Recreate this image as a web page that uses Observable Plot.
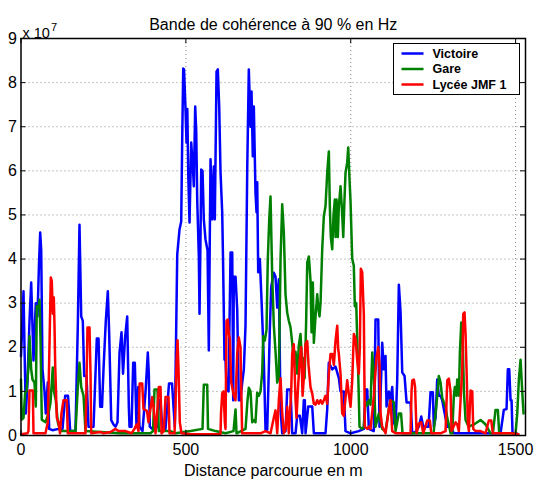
<!DOCTYPE html>
<html><head><meta charset="utf-8">
<script src="https://cdn.jsdelivr.net/npm/d3@7"></script>
<script src="https://cdn.jsdelivr.net/npm/@observablehq/plot@0.6"></script>
<style>body{margin:0;background:#fff;}</style>
</head><body><div id="chart"></div>
<script>
const title = "Bande de cohérence à 90 % en Hz";
const xLabel = "Distance parcourue en m";
const yScaleText = "x 10";
const yExponent = "7";
const seriesNames = ["Victoire", "Gare", "Lycée JMF 1"];
const seriesColors = ["#0000ff", "#008000", "#ff0000"];
const xTicks = [0, 500, 1000, 1500];
const yTicks = [0, 1, 2, 3, 4, 5, 6, 7, 8, 9];
const xDomain = [0, 1530];
const yDomain = [0, 9];

// values in units of 1e7 Hz, distance in m
const victoire = [[0,1.8],[4.5,2.6],[7.6,3.27],[10.6,2.0],[14.6,0.5],[19.7,1.2],[25.8,2.6],[30.9,3.47],[37.9,1.7],[44.9,3.0],[50,2.7],[54.6,3.9],[58.2,4.6],[61.3,4.2],[65.2,1.5],[71.3,1.0],[75.2,0.5],[81.3,1.2],[85.5,0.15],[95.5,0.12],[113.7,0.15],[125.9,0.15],[134,0.9],[142.6,0.9],[149.2,0.1],[165.3,0.1],[172.3,2.5],[177.4,4.78],[182.6,2.7],[187.4,2.6],[191.7,1.35],[198.7,1.35],[204.7,0.2],[219.9,0.2],[229.9,2.2],[235.1,2.2],[240.2,0.65],[245.7,0.65],[250.2,1.5],[257.2,2.6],[263.3,3.27],[267.5,2.3],[273.6,0.35],[280.6,0.25],[286.6,0.2],[292.7,0.3],[298.8,1.88],[304.8,2.34],[309.4,1.4],[315.4,2.2],[322.1,2.7],[327,0.65],[329.1,0.2],[335.1,0.2],[340.3,1.65],[345.2,1.65],[350.3,0.2],[355.5,1.1],[359.4,0.2],[368.5,0.1],[377.6,0.98],[384.6,1.88],[387.6,1.4],[390.6,0.2],[401.9,0.12],[414,0.2],[418,0.8],[423,0.8],[428.2,0.2],[438.3,0.15],[448.9,1.18],[458,1.18],[466.5,0.2],[473.8,4.1],[480.7,4.67],[485.9,4.85],[488.9,6.7],[492,8.32],[494.4,8.3],[498.9,7.39],[502,6.64],[504.4,7.4],[507.1,5.96],[511.1,4.83],[516.2,6.64],[521.1,6.1],[524.1,5.65],[528.3,7.46],[531.4,6.9],[534.4,5.35],[539.3,4.06],[541.4,2.76],[544.4,4.5],[546.6,6.03],[550.5,6.0],[554.4,4.9],[559.6,4.44],[565.7,4.2],[569.6,1.93],[572.6,4.5],[574.8,6.26],[579.9,4.9],[584.8,6.1],[587.8,4.9],[593,8.25],[596.9,8.3],[601.1,7.46],[605.1,5.96],[610.2,5.06],[612.7,4.0],[617.2,1.72],[620.3,1.7],[623.3,1.1],[629.4,1.0],[635.5,4.15],[640.6,4.15],[643.6,0.8],[645.4,3.6],[650.6,3.6],[655.7,2.86],[660.6,0.8],[665.3,0.8],[670.9,1.2],[675.8,1.5],[680.9,2.5],[686.1,6.03],[690.9,8.3],[696.1,7.0],[699.1,7.8],[703,6.33],[706.1,7.46],[711.2,5.5],[714.3,5.06],[716.4,5.74],[719.4,3.7],[724.3,4.0],[729.4,3.08],[736.4,1.72],[741.6,0.13],[746.7,0.13],[751.6,1.5],[754.6,2.4],[758.9,3.38],[766.8,3.69],[771.9,3.6],[777.1,2.9],[781.9,3.54],[787.1,0.6],[792.2,0.05],[802.2,0.1],[807.4,1.04],[817.4,1.04],[822.5,0.05],[832.6,0.05],[837.7,0.45],[845.6,0.45],[852.9,0.05],[857.7,0.8],[860.8,0.8],[862.9,0.05],[871.1,0.66],[883.2,0.66],[888.1,0.05],[923.5,0.05],[928.7,0.6],[933.5,1.65],[943.9,1.5],[953.9,1.56],[963.9,1.3],[969,1.0],[979,1.0],[984.2,0.1],[999.4,0.05],[1024.5,0.1],[1039.7,0.15],[1044.9,1.04],[1050,1.04],[1054.9,0.15],[1070,0.1],[1075.2,2.63],[1083.4,2.63],[1087.3,0.2],[1095.5,2.1],[1100.4,1.5],[1105.5,1.8],[1108.6,0.66],[1115.5,1.0],[1120.7,0.8],[1125.8,1.1],[1130.7,0.3],[1135.9,0.2],[1141,1.27],[1145.9,3.42],[1151.1,2.8],[1156.2,1.43],[1163.2,1.35],[1169.3,0.75],[1181.4,0.75],[1186.5,0.05],[1196.5,0.08],[1206.5,0.2],[1213.8,0.43],[1219.9,0.2],[1236,0.2],[1242,0.98],[1249,0.98],[1252,0.2],[1257.2,0.4],[1262.3,1.27],[1267.2,0.9],[1272.4,0.9],[1277.5,0.8],[1282.4,0.6],[1292.7,0.2],[1302.7,0.2],[1312.7,0.05],[1454.3,0.05],[1464.3,0.58],[1472.5,0.6],[1476.5,1.5],[1480.7,1.5],[1484.7,0.8],[1487.7,0.8],[1490.7,0.05],[1503,0.05]];

const gare = [[0,1.27],[2.4,0.36],[7.6,0.4],[12.7,0.97],[16.7,1.0],[22.7,1.56],[25.8,2.25],[30.9,1.5],[34.9,1.27],[40.9,1.2],[44.9,0.66],[47.9,2.93],[53.1,2.9],[56.1,3.08],[59.1,2.2],[63.1,0.36],[74.3,0.3],[83.4,0.5],[89.5,0.75],[96.4,1.54],[100.1,1.0],[105.5,0.8],[111.6,0.3],[119.8,0.1],[165.3,0.1],[172.3,1.1],[177.4,1.65],[182.6,1.1],[189.6,0.9],[195.6,0.1],[241.1,0.08],[301.8,0.05],[392.8,0.05],[400.4,0.1],[404.9,1.04],[414,1.04],[418,0.1],[453.4,0.1],[468.6,0.05],[514.1,0.1],[550.5,0.15],[554.4,1.15],[564.7,1.15],[567.2,0.15],[589.9,0.1],[620.2,0.05],[644.5,0.1],[650.6,0.59],[653.6,0.05],[680.9,0.15],[687,0.8],[690.9,1.08],[696.1,1.0],[701.2,0.3],[706.1,0.35],[711.2,0.3],[716.3,0.97],[721.2,0.9],[726.4,1.0],[731.5,1.43],[734.6,2.25],[739.4,2.15],[744.6,2.4],[748.5,4.0],[752.8,4.9],[756.7,5.42],[761.9,3.6],[766.7,2.5],[771.9,1.9],[777.1,1.2],[781.9,1.35],[787.1,4.0],[792.2,5.24],[797.1,4.6],[802.2,3.2],[807.4,2.78],[812.2,2.6],[817.4,2.45],[822.5,2.1],[827.4,1.6],[832.5,1.9],[837.7,1.4],[842.6,2.05],[847.7,2.3],[852.9,1.6],[857.7,1.75],[860,1.3],[864.5,2.5],[868.1,3.92],[873,4.06],[878.1,3.5],[881.1,2.34],[885,3.47],[888.1,2.1],[893.2,2.7],[898.4,3.2],[901.4,2.9],[905.3,2.7],[908.4,3.0],[913.5,4.22],[918.4,4.97],[923.5,5.2],[928.7,5.96],[933.6,6.44],[936.6,5.2],[939.6,4.5],[943.9,4.22],[947.8,5.0],[951.8,5.35],[953.9,4.5],[957,5.35],[960.9,4.5],[963.9,5.2],[969.1,5.65],[974.2,5.0],[977.3,4.5],[980.3,5.2],[984.2,5.96],[989.3,6.19],[992.4,6.53],[996.3,5.8],[999.4,5.3],[1004.5,4.0],[1009.3,3.85],[1012.4,2.93],[1016.6,3.0],[1019.6,2.2],[1022.7,1.4],[1026.6,0.2],[1034.8,0.15],[1039.7,0.2],[1044.9,0.75],[1050,0.68],[1054.9,0.8],[1060,0.7],[1065.2,1.88],[1070,1.4],[1075.2,0.2],[1085.2,0.5],[1095.5,0.15],[1105.5,0.1],[1115.5,0.6],[1120.6,0.8],[1130.7,0.75],[1135.9,0.1],[1145.9,0.5],[1152.6,0.5],[1157.1,0.05],[1251.1,0.05],[1257.2,0.5],[1262.3,0.9],[1267.2,1.35],[1272.4,1.2],[1277.5,0.85],[1282.4,0.75],[1287.5,0.66],[1292.7,0.4],[1297.5,0.25],[1302.7,0.05],[1307.8,0.05],[1312.7,0.9],[1315.7,1.1],[1320,0.9],[1323,1.27],[1327.9,0.9],[1331,1.88],[1335.2,2.56],[1338.3,2.56],[1343.2,1.0],[1348.3,0.35],[1357.4,0.2],[1373.4,0.25],[1383.7,0.3],[1393.7,0.35],[1401.8,0.3],[1408.8,0.25],[1424,0.05],[1431,0.05],[1439.1,0.58],[1446.1,0.58],[1450.3,0.05],[1499.8,0.05],[1505,0.5],[1509.9,1.27],[1515,1.72],[1520.1,1.0],[1524,0.5]];

const lycee = [[0,0.03],[19.7,0.05],[22.7,0.1],[25.8,1.02],[35.8,1.02],[37.9,0.05],[74.3,0.05],[81.3,0.3],[85.5,1.7],[90.4,3.58],[93.4,3.5],[96.4,2.76],[99.5,3.13],[101.6,2.5],[103.7,1.6],[108.6,0.4],[113.7,0.3],[118.3,0.05],[122.8,0.5],[128.9,0.8],[138.9,0.8],[141.9,0.05],[195.6,0.05],[197.7,0.8],[201.7,2.45],[207.8,2.45],[210.8,1.4],[212.9,0.05],[241.1,0.08],[250.2,0.05],[271.5,0.08],[286.6,0.15],[295.7,0.1],[317,0.1],[335.1,0.05],[344.2,0.15],[350.3,0.25],[356.4,0.1],[359.8,1.18],[367.6,1.18],[371.5,0.6],[377.6,0.58],[382.2,0.55],[386.7,0.3],[397.9,0.87],[402.8,0.6],[407.9,0.05],[411.9,0.4],[418,1.1],[423.1,1.1],[426.2,0.05],[433.1,0.1],[438.3,0.87],[447.4,0.87],[450.4,0.05],[465.6,0.05],[468.6,0.7],[471.6,1.65],[474.7,2.16],[477.7,1.5],[481.6,0.3],[486.8,0.05],[514.1,0.03],[544.4,0.03],[605,0.03],[606.6,0.5],[610.3,0.96],[614.2,1.0],[618.2,0.3],[620.3,0.15],[623.3,2.6],[627.3,2.63],[630.3,2.3],[633.3,2.2],[637.6,1.2],[640.6,1.09],[645.4,0.9],[650.6,0.8],[655.7,1.85],[660.6,2.22],[665.6,2.0],[670.6,0.05],[695.9,0.05],[726.4,0.05],[741.5,0.1],[756.7,0.05],[766.7,0.4],[771.9,0.57],[777.1,0.05],[781.9,0.8],[787.1,1.3],[792.2,0.5],[797.1,0.05],[802.2,0.15],[807.4,0.65],[812.2,0.05],[819.5,1.0],[822.5,1.85],[827.4,2.07],[832.6,0.8],[835.6,0.4],[840.7,1.15],[845.6,1.75],[849.9,2.0],[853.9,0.9],[857.7,1.3],[862.9,2.07],[868,2.14],[872,1.6],[878.1,1.09],[883.2,0.95],[888.1,0.72],[893.2,0.7],[898.3,0.8],[903.2,0.72],[908.4,0.8],[913.5,0.72],[918.4,0.8],[923.5,0.9],[928.7,0.72],[933.6,1.4],[938.7,1.85],[943.9,1.85],[948.8,1.6],[953.9,2.15],[959,2.49],[962.1,1.95],[963.9,1.85],[969.1,1.4],[974.2,0.5],[979,0.45],[984.2,0.85],[989.3,1.25],[994.1,0.95],[999.4,0.65],[1004.5,1.25],[1009.4,2.3],[1014.5,2.2],[1019.7,1.7],[1024.5,1.4],[1027.6,2.0],[1030.6,3.78],[1034.8,3.7],[1039.7,2.75],[1042.7,0.2],[1050,0.15],[1054.9,0.2],[1060,0.15],[1070,0.9],[1078.2,1.77],[1083.4,2.0],[1087.3,1.6],[1090.4,0.5],[1095.5,0.2],[1105.5,0.05],[1115.5,0.6],[1120.6,0.8],[1125.8,0.1],[1135.9,0.05],[1181.4,0.05],[1184.4,1.0],[1186.6,1.25],[1191.5,1.27],[1195.1,1.1],[1199.7,0.05],[1206.6,0.27],[1213.8,0.3],[1219.9,0.05],[1232,0.34],[1240,0.34],[1244.2,0.05],[1272.4,0.05],[1287.6,0.1],[1292.7,1.25],[1297.6,1.29],[1302.7,1.0],[1305.8,0.1],[1317.9,0.3],[1323,0.25],[1327.9,0.1],[1333,0.8],[1338.1,1.47],[1341.2,2.76],[1345.1,2.79],[1348.2,2.3],[1351.2,1.5],[1355.2,0.3],[1358.2,0.1],[1363.4,1.02],[1368.5,1.0],[1371.5,0.15],[1378.5,0.1],[1393.7,0.1],[1408.9,0.05],[1418.8,0.34],[1426.1,0.34],[1431,0.05],[1454.3,0.05],[1484.7,0.05],[1508.9,0.03]];

const rows = [];
[victoire, gare, lycee].forEach((s, i) => s.forEach(([x, y]) => rows.push({serie: seriesNames[i], x, y})));

const font = "'Liberation Sans', Arial, Helvetica, sans-serif";
const xTickLen = 15;   // data units (~5 px)
const yTickLen = 0.12; // data units (~5 px)

const chart = Plot.plot({
  width: 535, height: 481,
  marginLeft: 20.5, marginRight: 10, marginTop: 38, marginBottom: 46,
  style: {fontFamily: font, fontSize: "16px", color: "black", background: "white", overflow: "visible"},
  x: {domain: xDomain, ticks: xTicks, tickSize: 0, tickPadding: 8, label: null, tickFormat: d => String(d)},
  y: {domain: yDomain, ticks: yTicks, tickSize: 0, tickPadding: 4, label: null, tickFormat: d => String(d)},
  color: {domain: seriesNames, range: seriesColors},
  marks: [
    Plot.ruleY(yTicks.filter(d => d > yDomain[0] && d < yDomain[1]), {y: d => d, stroke: "#555", strokeWidth: 0.7, strokeDasharray: "1,3"}),
    Plot.ruleX(xTicks.filter(d => d > xDomain[0] && d < xDomain[1]), {x: d => d, stroke: "#555", strokeWidth: 0.7, strokeDasharray: "1,3"}),
    Plot.line(rows, {x: "x", y: "y", z: "serie", stroke: "serie", strokeWidth: 2.5, strokeLinejoin: "round"}),
    Plot.ruleY(yTicks, {y: d => d, x1: xDomain[0], x2: xDomain[0] + xTickLen, stroke: "black", strokeWidth: 1}),
    Plot.ruleY(yTicks, {y: d => d, x1: xDomain[1] - xTickLen, x2: xDomain[1], stroke: "black", strokeWidth: 1}),
    Plot.ruleX(xTicks, {x: d => d, y1: yDomain[0], y2: yDomain[0] + yTickLen, stroke: "black", strokeWidth: 1}),
    Plot.ruleX(xTicks, {x: d => d, y1: yDomain[1] - yTickLen, y2: yDomain[1], stroke: "black", strokeWidth: 1}),
    Plot.frame({stroke: "black", strokeWidth: 1.5}),
    Plot.text([title], {text: d => d, frameAnchor: "top", dy: -20, fontSize: 16}),
    Plot.text([xLabel], {text: d => d, frameAnchor: "bottom", dy: 40, fontSize: 16}),
    Plot.text([yScaleText], {text: d => d, frameAnchor: "top-left", dx: 1.5, dy: -10.5, textAnchor: "start", fontSize: 14.5}),
    Plot.text([yExponent], {text: d => d, frameAnchor: "top-left", dx: 30, dy: -15.5, textAnchor: "start", fontSize: 11})
  ]
});

// legend box (MATLAB style, inside the axes, top-right)
const svg = d3.select(chart);
const lg = svg.append("g").attr("font-family", font).attr("font-size", 12.5).attr("font-weight", "bold").attr("text-anchor", "start");
lg.append("rect").attr("x", 393.5).attr("y", 43.5).attr("width", 126).attr("height", 51)
  .attr("fill", "white").attr("stroke", "black").attr("stroke-width", 1);
seriesNames.forEach((name, i) => {
  const yy = 53.5 + i * 15.5;
  lg.append("line").attr("x1", 401.5).attr("x2", 423.5).attr("y1", yy).attr("y2", yy)
    .attr("stroke", seriesColors[i]).attr("stroke-width", 2.5);
  lg.append("text").attr("x", 432.5).attr("y", yy).attr("dy", "0.35em").attr("text-anchor", "start").attr("fill", "black").text(name);
});

document.getElementById("chart").appendChild(chart);
</script>
</body></html>
